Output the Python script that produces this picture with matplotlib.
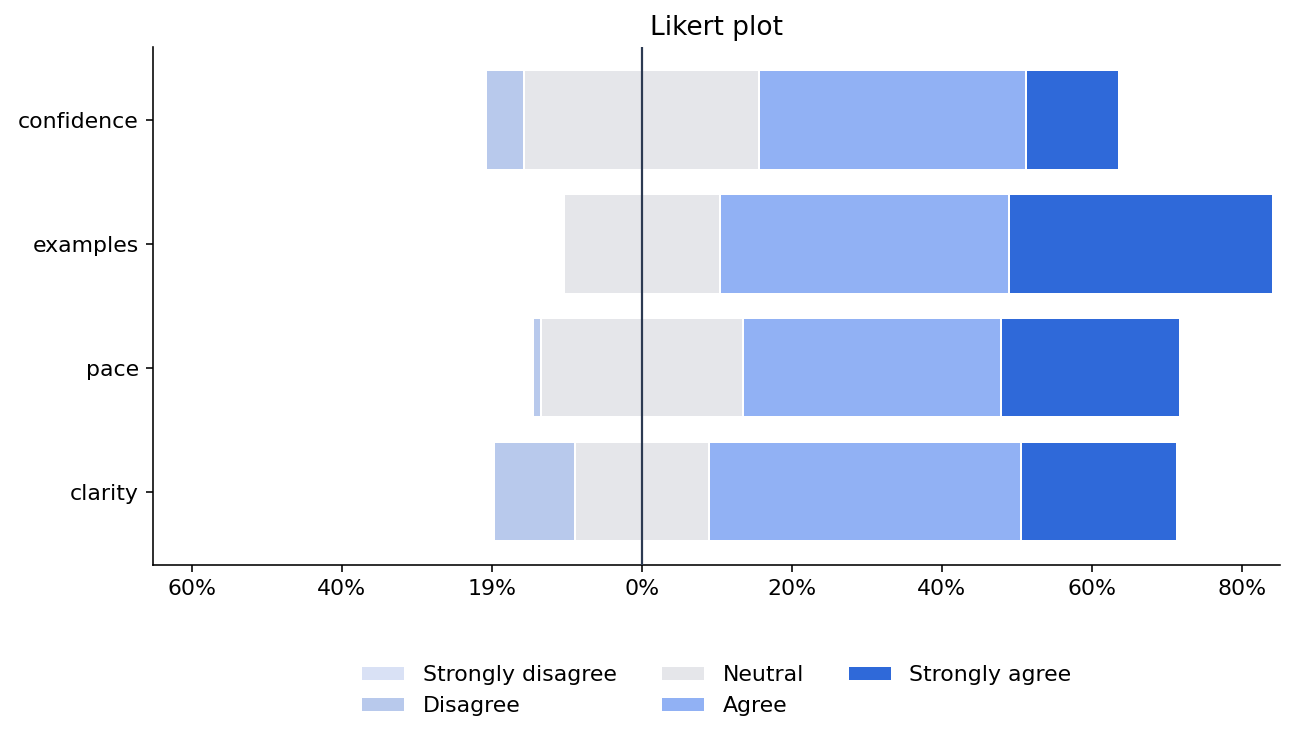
import numpy as np
import matplotlib.pyplot as plt

# Datos (ancho de cada segmento, en %)
questions = ['confidence', 'examples', 'pace', 'clarity']
responses = ['Strongly disagree', 'Disagree', 'Neutral', 'Agree', 'Strongly agree']
strongly_disagree = [0.0, 0.0, 0.0, 0.0]
disagree = [5.1, 0.0, 0.97, 10.7]
neutral = [31.3, 20.8, 27.0, 17.9]
agree = [35.5, 38.5, 34.4, 41.6]
strongly_agree = [12.4, 35.3, 23.8, 20.8]

xticks = [-60, -40, -20, 0, 20, 40, 60, 80]
xtick_labels = ['60%', '40%', '19%', '0%', '20%', '40%', '60%', '80%']

colors = ['#d9e1f5', '#b8c9ec', '#e5e6ea', '#91b1f4', '#2f69d9']

plt.rcParams['font.size'] = 11

fig = plt.figure(figsize=(9, 5.14), dpi=144)
ax = fig.add_axes([0.1178, 0.2365, 0.87, 0.70])

series = [strongly_disagree, disagree, neutral, agree, strongly_agree]
y = np.arange(len(questions))

# Punto de inicio: centrar el neutral en cero
left = -(np.array(strongly_disagree) + np.array(disagree) + np.array(neutral) / 2)
for vals, col, name in zip(series, colors, responses):
    vals = np.array(vals)
    ax.barh(y, vals, left=left, height=0.8, color=col, edgecolor='white',
            linewidth=1, label=name)
    left = left + vals

ax.axvline(0, color='#2c3a52', linewidth=1.1, zorder=3)

ax.set_yticks(y)
ax.set_yticklabels(questions)
ax.invert_yaxis()

ax.set_xticks(xticks)
ax.set_xticklabels(xtick_labels)
ax.set_xlim(-65.2, 85.1)

ax.spines['top'].set_visible(False)
ax.spines['right'].set_visible(False)

ax.set_title('Likert plot', fontsize=13.2)

ax.legend(loc='upper center', bbox_to_anchor=(0.5, -0.155), ncol=3, frameon=False)

fig.savefig('out.png', dpi=144)
